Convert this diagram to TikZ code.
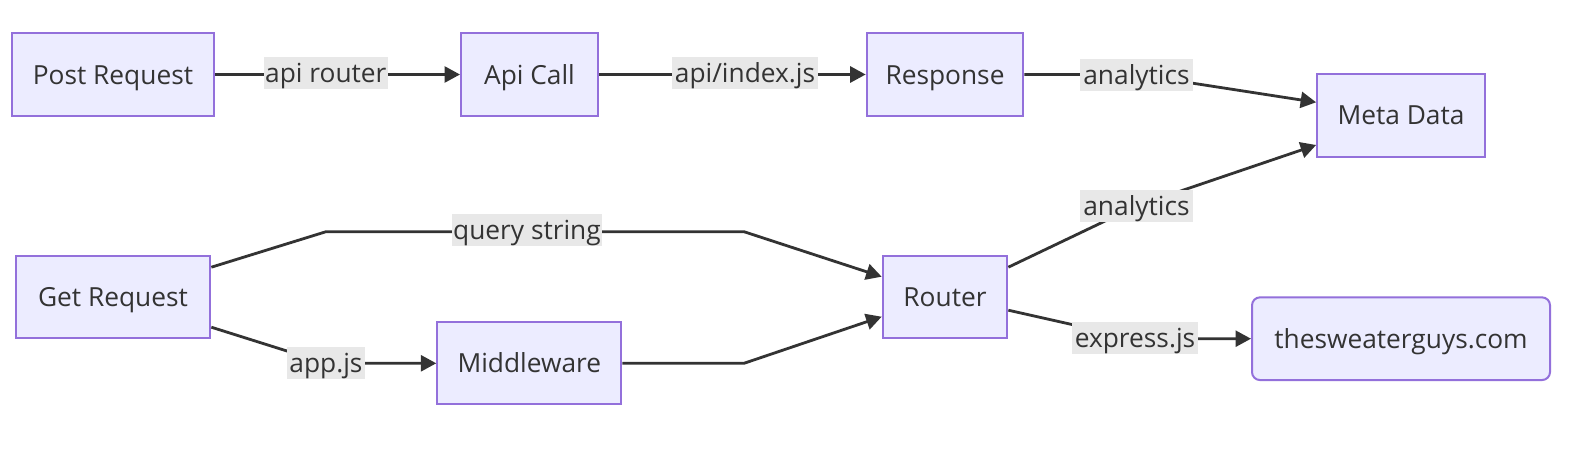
\documentclass[tikz,border=0pt]{standalone}
\usepackage{fontspec}
\setmainfont{Open Sans}
\usetikzlibrary{arrows.meta,calc}
\definecolor{nodefill}{HTML}{ECECFF}
\definecolor{nodeline}{HTML}{9370DB}
\definecolor{ink}{HTML}{333333}
\definecolor{lblbg}{HTML}{E8E8E8}
\tikzset{
  box/.style={draw=nodeline, fill=nodefill, line width=2pt, inner sep=0pt,
    text=ink, font=\fontsize{26.3}{32}\selectfont, anchor=center,
    text height=19pt, text depth=0pt},
  lbl/.style={fill=lblbg, inner sep=0pt, minimum height=32pt, text=ink,
    font=\fontsize{26.3}{32}\selectfont, anchor=center,
    text height=19pt, text depth=0pt},
  edge/.style={draw=ink, line width=2.8pt, -{Triangle[length=15.5pt,width=16pt]}},
}
\begin{document}
\begin{tikzpicture}[x=1pt,y=-1pt]
\path[fill=white,use as bounding box] (0,0) rectangle (1584,450);

% nodes
\node[box, minimum width=202pt, minimum height=83pt] (post) at (113,74.5) {Post Request};
\node[box, minimum width=137pt, minimum height=83pt] (api) at (529.5,74.5) {Api Call};
\node[box, minimum width=156.7pt, minimum height=83pt] (resp) at (945,74.5) {Response};
\node[box, minimum width=167.7pt, minimum height=83pt] (meta) at (1401,115.3) {Meta Data};
\node[box, minimum width=194.7pt, minimum height=82.5pt] (get) at (113,297.2) {Get Request};
\node[box, minimum width=184pt, minimum height=82pt] (mid) at (529.3,363.3) {Middleware};
\node[box, minimum width=124.7pt, minimum height=82.5pt] (router) at (945,297.2) {Router};
\node[box, rounded corners=8pt, minimum width=298pt, minimum height=82.7pt] (site) at (1401,338.7) {thesweaterguys.com};

% bend points
\coordinate (c3) at (1136.5,74.5);
\coordinate (c4a) at (326,231.7);
\coordinate (c4b) at (744,231.7);
\coordinate (c5) at (326,363.3);
\coordinate (c6) at (744,363.3);
\coordinate (c7) at (1136.5,206);
\coordinate (c8) at (1135,338.7);

% edges
\draw[edge] (post.east) -- (api.west);
\draw[edge] (api.east) -- (resp.west);
\draw[edge] (resp.east) -- (c3) -- ($(meta.west)+(0,-13)$);
\draw[edge] ($(get.east)+(0,-30)$) -- (c4a) -- (c4b) -- ($(router.west)+(0,-20.5)$);
\draw[edge] ($(get.east)+(0,30)$) -- (c5) -- (mid.west);
\draw[edge] (mid.east) -- (c6) -- ($(router.west)+(0,19.5)$);
\draw[edge] ($(router.east)+(0,-30)$) -- (c7) -- ($(meta.west)+(0,29.7)$);
\draw[edge] ($(router.east)+(0,13)$) -- (c8) -- (site.west);

% edge labels
\node[lbl, minimum width=124pt] (l1) at (325.8,73.3) {api router};
\node[lbl, minimum width=146pt] (l2) at (745,73.3) {api/index.js};
\node[lbl, minimum width=113pt] (l3) at (1136.5,74.8) {analytics};
\node[lbl, minimum width=150pt] (l4) at (527,230) {query string};
\node[lbl, minimum width=77.7pt] (l5) at (326,362.5) {app.js};
\node[lbl, minimum width=113pt] (l7) at (1136.5,206) {analytics};
\node[lbl, minimum width=126pt] (l8) at (1135,337.5) {express.js};
\end{tikzpicture}
\end{document}
